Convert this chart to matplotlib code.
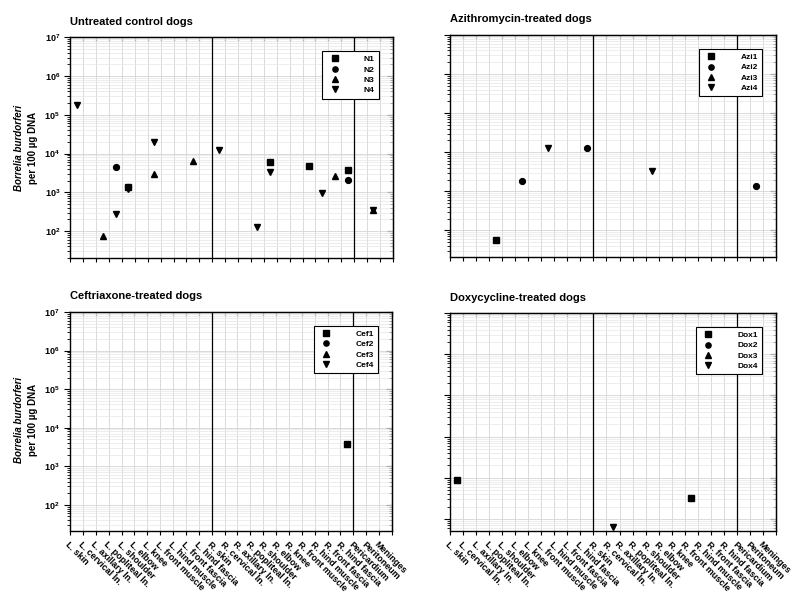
import matplotlib
matplotlib.use("Agg")
import matplotlib.pyplot as plt
from matplotlib.ticker import LogLocator, FixedLocator, NullFormatter

plt.rcParams['font.family'] = ['Liberation Sans', 'DejaVu Sans']
plt.rcParams['font.weight'] = 'bold'

sites = ["L. skin", "L. cervical ln.", "L. axillary ln.", "L. popliteal ln.", "L. shoulder",
         "L. elbow", "L. knee", "L. front muscle", "L. hind muscle", "L. front fascia",
         "L. hind fascia", "R. skin", "R. cervical ln.", "R. axillary ln.", "R. popliteal ln.",
         "R. shoulder", "R. elbow", "R. knee", "R. front muscle", "R. hind muscle",
         "R. front fascia", "R. hind fascia", "Pericardium", "Peritoneum", "Meninges"]

# untreated controls
n1_sites = ["L. shoulder", "R. shoulder", "R. front muscle", "R. hind fascia"]
n1_vals = [1400, 6200, 4700, 3700]
n2_sites = ["L. popliteal ln.", "L. shoulder", "R. hind fascia"]
n2_vals = [4600, 1350, 2100]
n3_sites = ["L. axillary ln.", "L. knee", "L. front fascia", "R. front fascia", "Peritoneum"]
n3_vals = [76, 2900, 6500, 2700, 350]
n4_sites = ["L. skin", "L. popliteal ln.", "L. shoulder", "L. knee", "R. skin",
            "R. popliteal ln.", "R. shoulder", "R. hind muscle", "Peritoneum"]
n4_vals = [180000, 275, 1250, 20000, 12000, 130, 3300, 980, 350]

# azithromycin
azi1_sites = ["L. popliteal ln."]
azi1_vals = [56]
azi2_sites = ["L. elbow", "L. hind fascia", "Peritoneum"]
azi2_vals = [1800, 13000, 1400]
azi3_sites = []
azi3_vals = []
azi4_sites = ["L. front muscle", "R. shoulder"]
azi4_vals = [12700, 3300]

# ceftriaxone
cef1_sites = ["R. hind fascia"]
cef1_vals = [3800]
cef2_sites, cef2_vals = [], []
cef3_sites, cef3_vals = [], []
cef4_sites, cef4_vals = [], []

# doxycycline
dox1_sites = ["L. skin", "R. front muscle"]
dox1_vals = [870, 330]
dox2_sites, dox2_vals = [], []
dox3_sites, dox3_vals = [], []
dox4_sites = ["R. cervical ln."]
dox4_vals = [63]

titles = ["Untreated control dogs", "Azithromycin-treated dogs",
          "Ceftriaxone-treated dogs", "Doxycycline-treated dogs"]
names = [["N1", "N2", "N3", "N4"], ["Azi1", "Azi2", "Azi3", "Azi4"],
         ["Cef1", "Cef2", "Cef3", "Cef4"], ["Dox1", "Dox2", "Dox3", "Dox4"]]
panels = [
    [(n1_sites, n1_vals), (n2_sites, n2_vals), (n3_sites, n3_vals), (n4_sites, n4_vals)],
    [(azi1_sites, azi1_vals), (azi2_sites, azi2_vals), (azi3_sites, azi3_vals), (azi4_sites, azi4_vals)],
    [(cef1_sites, cef1_vals), (cef2_sites, cef2_vals), (cef3_sites, cef3_vals), (cef4_sites, cef4_vals)],
    [(dox1_sites, dox1_vals), (dox2_sites, dox2_vals), (dox3_sites, dox3_vals), (dox4_sites, dox4_vals)],
]
markers = ["s", "o", "^", "v"]
ylims = [(20, 1e7), (21, 1e7), (21, 1e7), (51, 1e7)]

fig = plt.figure(figsize=(8, 5.92), dpi=100)
rects = [[0.088, 0.564, 0.403, 0.373],
         [0.5625, 0.566, 0.4075, 0.375],
         [0.0875, 0.103, 0.4025, 0.370],
         [0.5625, 0.103, 0.4075, 0.368]]

for k in range(4):
    ax = fig.add_axes(rects[k])
    for j in range(4):
        s, v = panels[k][j]
        xs = [sites.index(n) + 0.5 for n in s]
        ax.plot(xs, v, linestyle='none', marker=markers[j], color='black',
                markersize=4.2, label=names[k][j])
    ax.set_yscale('log')
    ax.set_xlim(0, 25)
    ax.set_ylim(*ylims[k])
    ax.yaxis.set_major_locator(LogLocator(base=10, numticks=10))
    ax.yaxis.set_minor_locator(LogLocator(base=10, subs=range(2, 10), numticks=20))
    ax.yaxis.set_minor_formatter(NullFormatter())
    ax.xaxis.set_major_locator(FixedLocator(range(26)))
    ax.grid(True, which='major', color='#d4d4d4', linewidth=0.6)
    ax.grid(True, which='minor', axis='y', color='#e6e6e6', linewidth=0.5)
    ax.axvline(11, color='black', linewidth=0.9)
    ax.axvline(22, color='black', linewidth=0.9)
    for sp in ax.spines.values():
        sp.set_linewidth(1.0)
    ax.tick_params(axis='both', which='both', direction='out', labelsize=6.5)
    ax.tick_params(axis='x', which='major', length=3)
    ax.tick_params(axis='y', which='major', length=4)
    ax.tick_params(axis='y', which='minor', length=2)

    # inward ticks on the top and right edges
    top = ax.secondary_xaxis('top')
    top.xaxis.set_major_locator(FixedLocator(range(26)))
    top.tick_params(direction='in', length=3, labeltop=False)
    right = ax.secondary_yaxis('right')
    right.set_yscale('log')
    right.yaxis.set_major_locator(LogLocator(base=10, numticks=10))
    right.yaxis.set_minor_locator(LogLocator(base=10, subs=range(2, 10), numticks=20))
    right.tick_params(which='major', direction='in', length=4, labelright=False)
    right.tick_params(which='minor', direction='in', length=2, labelright=False)

    if k >= 2:
        ax.set_xticklabels(sites + [""], rotation=-45, rotation_mode='anchor',
                           ha='left', va='top', fontsize=6.5, fontweight='bold')
    else:
        ax.set_xticklabels([])
    if k % 2 == 1:
        ax.set_yticklabels([])
    ax.set_title(titles[k], loc='left', fontsize=8, fontweight='bold', pad=9)
    leg = ax.legend(loc='upper right', fontsize=6, frameon=True, fancybox=False,
                    edgecolor='black', framealpha=1, handletextpad=2.5,
                    borderpad=0.5, labelspacing=0.3, markerscale=0.9,
                    bbox_to_anchor=(0.97, 0.955))
    leg.get_frame().set_linewidth(0.8)
    for t in leg.get_texts():
        t.set_fontweight('bold')

for yc in [0.75, 0.29]:
    fig.text(0.024, yc, "Borrelia burdorferi", rotation=90, ha='center', va='center',
             fontsize=7, style='italic', fontweight='bold')
    fig.text(0.041, yc, "per 100 \u00b5g DNA", rotation=90, ha='center', va='center',
             fontsize=7, fontweight='bold')

fig.savefig("out.png", dpi=100)
